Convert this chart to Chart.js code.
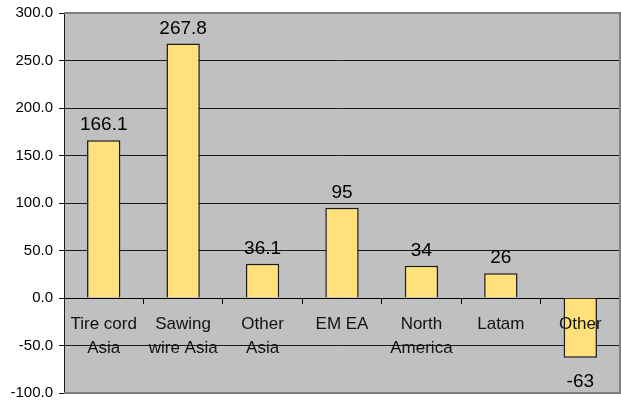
<!DOCTYPE html>
<html>
<head>
<meta charset="utf-8">
<script src="https://cdn.jsdelivr.net/npm/chart.js@4.4.1/dist/chart.umd.min.js"></script>
<style>
  html, body { margin: 0; padding: 0; background: #fff; }
  #wrap { width: 621px; height: 400px; }
</style>
</head>
<body>
<div id="wrap"><canvas id="chart"></canvas></div>
<script>
const categories = [
  ['Tire cord', 'Asia'],
  ['Sawing', 'wire Asia'],
  ['Other', 'Asia'],
  ['EM EA'],
  ['North', 'America'],
  ['Latam'],
  ['Other']
];
const values = [166.1, 267.8, 36.1, 95, 34, 26, -63];
const yTicks = [-100, -50, 0, 50, 100, 150, 200, 250, 300];

// gray plot background + gray frame on top/right/bottom
const plotFrame = {
  id: 'plotFrame',
  beforeDraw(chart) {
    const { ctx, chartArea: a } = chart;
    ctx.save();
    ctx.fillStyle = '#c0c0c0';
    ctx.fillRect(a.left, a.top, a.right - a.left, a.bottom - a.top);
    ctx.restore();
  },
  afterDraw(chart) {
    const { ctx, chartArea: a } = chart;
    ctx.save();
    ctx.strokeStyle = '#808080';
    ctx.lineWidth = 2;
    ctx.beginPath();
    ctx.moveTo(a.left, a.top);
    ctx.lineTo(a.right, a.top);
    ctx.lineTo(a.right, a.bottom);
    ctx.lineTo(a.left, a.bottom);
    ctx.stroke();
    ctx.restore();
  }
};

// value labels above (or below, for negatives) each bar
const valueLabels = {
  id: 'valueLabels',
  afterDatasetsDraw(chart) {
    const { ctx } = chart;
    const meta = chart.getDatasetMeta(0);
    ctx.save();
    ctx.font = '19px Arial, "Liberation Sans", sans-serif';
    ctx.fillStyle = '#000';
    ctx.textAlign = 'center';
    meta.data.forEach((bar, i) => {
      const v = values[i];
      if (v >= 0) {
        ctx.textBaseline = 'alphabetic';
        ctx.fillText(String(v), bar.x, bar.y - 10);
      } else {
        ctx.textBaseline = 'top';
        ctx.fillText(String(v), bar.x, bar.y + 14);
      }
    });
    ctx.restore();
  }
};

// let the layout padding alone decide the plot box
const noScalePadding = scale => {
  scale.paddingTop = 0;
  scale.paddingBottom = 0;
  scale.paddingLeft = 0;
  scale.paddingRight = 0;
};

new Chart(document.getElementById('chart'), {
  type: 'bar',
  data: {
    labels: categories,
    datasets: [{
      data: values,
      backgroundColor: '#ffe07a',
      borderColor: '#1a1a1a',
      borderWidth: 1.5,
      categoryPercentage: 1,
      barPercentage: 0.42
    }]
  },
  options: {
    responsive: true,
    maintainAspectRatio: false,
    animation: false,
    layout: { padding: { left: 0, top: 13, right: 1, bottom: 7 } },
    plugins: {
      legend: { display: false },
      tooltip: { enabled: false }
    },
    scales: {
      x: {
        position: { y: 0 },
        afterFit: noScalePadding,
        grid: {
          offset: true,
          drawOnChartArea: false,
          tickLength: 5,
          color: '#000'
        },
        border: { color: '#000', width: 1 },
        ticks: {
          z: 1,
          padding: 9,
          color: '#111',
          font: { family: 'Arial, "Liberation Sans", sans-serif', size: 17, lineHeight: 1.42 },
          maxRotation: 0,
          autoSkip: false
        }
      },
      y: {
        min: -100,
        max: 300,
        afterBuildTicks(scale) {
          scale.ticks = yTicks.map(v => ({ value: v }));
        },
        afterFit(scale) {
          scale.width = 64;
          noScalePadding(scale);
        },
        grid: { color: '#1a1a1a', lineWidth: 1, tickLength: 5 },
        border: { color: '#1a1a1a', width: 1 },
        ticks: {
          padding: 6,
          color: '#000',
          font: { family: 'Arial, "Liberation Sans", sans-serif', size: 15 },
          callback: v => Number(v).toFixed(1)
        }
      }
    }
  },
  plugins: [plotFrame, valueLabels]
});
</script>
</body>
</html>
